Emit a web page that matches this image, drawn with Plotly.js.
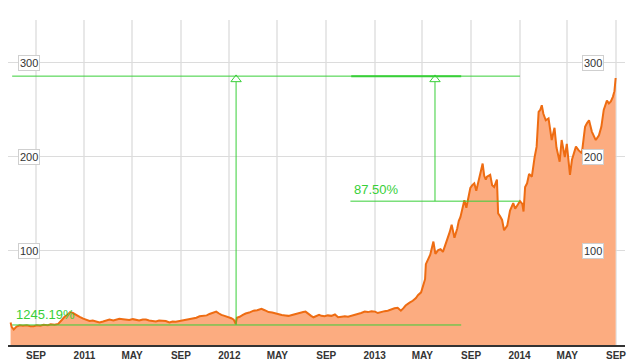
<!DOCTYPE html>
<html>
<head>
<meta charset="utf-8">
<script src="https://cdn.plot.ly/plotly-3.0.1.min.js"></script>
<style>html,body{margin:0;padding:0;background:#fff;}#chart{width:630px;height:363px;}</style>
</head>
<body>
<div id="chart"></div>
<script>
// Price series
const dates = ["2010-06-29","2010-07-02","2010-07-07","2010-07-14","2010-07-22","2010-07-30","2010-08-09","2010-08-18","2010-08-26","2010-09-03","2010-09-12","2010-09-20","2010-10-01","2010-10-08","2010-10-18","2010-10-27","2010-11-05","2010-11-12","2010-11-19","2010-11-26","2010-12-03","2010-12-10","2010-12-20","2010-12-29","2011-01-07","2011-01-14","2011-01-22","2011-02-01","2011-02-08","2011-02-17","2011-02-25","2011-03-05","2011-03-15","2011-03-22","2011-03-30","2011-04-08","2011-04-16","2011-04-24","2011-05-03","2011-05-11","2011-05-19","2011-05-28","2011-06-05","2011-06-13","2011-06-22","2011-06-30","2011-07-08","2011-07-16","2011-07-25","2011-08-03","2011-08-11","2011-08-19","2011-08-28","2011-09-06","2011-09-13","2011-09-22","2011-10-01","2011-10-10","2011-10-18","2011-10-27","2011-11-05","2011-11-12","2011-11-20","2011-11-29","2011-12-06","2011-12-12","2011-12-20","2011-12-29","2012-01-06","2012-01-12","2012-01-17","2012-01-20","2012-01-27","2012-02-04","2012-02-11","2012-02-20","2012-03-02","2012-03-11","2012-03-22","2012-03-30","2012-04-09","2012-04-18","2012-04-26","2012-05-04","2012-05-12","2012-05-21","2012-05-29","2012-06-07","2012-06-18","2012-06-27","2012-07-05","2012-07-11","2012-07-18","2012-07-25","2012-07-31","2012-08-08","2012-08-14","2012-08-20","2012-08-28","2012-09-05","2012-09-14","2012-09-23","2012-10-01","2012-10-10","2012-10-18","2012-10-26","2012-11-05","2012-11-12","2012-11-20","2012-11-28","2012-12-07","2012-12-15","2012-12-24","2013-01-02","2013-01-09","2013-01-18","2013-01-26","2013-02-03","2013-02-11","2013-02-20","2013-02-28","2013-03-08","2013-03-14","2013-03-20","2013-03-30","2013-04-07","2013-04-15","2013-04-20","2013-04-28","2013-05-03","2013-05-08","2013-05-10","2013-05-14","2013-05-21","2013-05-29","2013-06-03","2013-06-10","2013-06-16","2013-06-22","2013-06-26","2013-07-03","2013-07-09","2013-07-14","2013-07-18","2013-07-21","2013-07-28","2013-08-01","2013-08-05","2013-08-11","2013-08-15","2013-08-20","2013-08-25","2013-08-30","2013-09-04","2013-09-09","2013-09-14","2013-09-19","2013-09-24","2013-09-30","2013-10-04","2013-10-08","2013-10-11","2013-10-19","2013-10-24","2013-10-29","2013-11-05","2013-11-08","2013-11-13","2013-11-18","2013-11-23","2013-12-01","2013-12-08","2013-12-12","2013-12-16","2013-12-21","2013-12-26","2014-01-02","2014-01-08","2014-01-11","2014-01-15","2014-01-20","2014-01-25","2014-02-01","2014-02-08","2014-02-13","2014-02-18","2014-02-22","2014-02-26","2014-03-02","2014-03-08","2014-03-15","2014-03-23","2014-03-30","2014-04-04","2014-04-12","2014-04-17","2014-04-25","2014-04-30","2014-05-08","2014-05-13","2014-05-18","2014-05-23","2014-05-30","2014-06-07","2014-06-12","2014-06-15","2014-06-20","2014-06-25","2014-07-02","2014-07-07","2014-07-12","2014-07-20","2014-07-26","2014-08-01","2014-08-05","2014-08-09","2014-08-14","2014-08-19","2014-08-24","2014-08-28","2014-08-31"];
const prices = [24,19,16.5,19.5,21,20.5,21,20,20,21,20.5,21.5,21,22,21.5,22.5,26.6,30,32,35,34,32,30,28,27,25.5,26,24.5,24,25,26,27,26,27,28,27.5,27,26.5,27.5,26.5,26,27,27,26,25.5,25,26,25.5,25.5,24,25,24.8,25.5,26,27,27.5,28,29,30.5,31,31.5,33,34,35.5,33.5,32,31,30,28.5,27,22.5,29,30,32,33.5,34.5,36.5,37,38.5,37,35,34.5,33.5,33,32,31.5,31,32,33.5,34,35,35.5,33,31,29.5,31,32,31,30.5,31.5,31,32.5,29.5,30,30.5,30,31,32.5,33,34,35.5,35,36,35.5,34,35.5,36,36.5,38,39,39.5,36.5,39,42,45,47,50,53,56,62,70,86,90,96,110,97,101,102,99,104,111,120,128,118,114,124,132,136,146,154,146,158,167,170,172,164,174,182,193,180,176,179,181,170,168,176,140,137,133,122,127,143,148,151,145,149,153,150,142,168,172,182,179,200,211,248,250,255,246,239,241,218,231,210,195,218,200,214,181,197,203,211,207,204,222,232,236,239,227,222,218,223,232,250,254,260,257,259,264,270,284];

// Axis ticks
const xTickVals = ["2010-09-01","2011-01-01","2011-05-01","2011-09-01","2012-01-01","2012-05-01","2012-09-01","2013-01-01","2013-05-01","2013-09-01","2014-01-01","2014-05-01","2014-09-01"];
const xTickText = ["SEP","2011","MAY","SEP","2012","MAY","SEP","2013","MAY","SEP","2014","MAY","SEP"];
const yTicks = [100, 200, 300];

// Measurement annotations (price levels and dates)
const lowLevel = 21.3;
const highLevel = 286;
const midLevel = 153;
const measureStart = "2010-07-03";
const highLineEnd = "2014-01-02";
const highThickRange = ["2012-11-03", "2013-08-07"];
const lowLineEnd = "2013-08-07";
const midLineRange = ["2012-11-01", "2014-01-02"];
const arrowDates = ["2012-01-18", "2013-06-02"];
const arrowBottoms = [lowLevel, midLevel];
const pctLabels = ["1245.19%", "87.50%"];
const pctLabelDates = ["2010-07-08", "2012-11-05"];
const pctLabelLevels = [32, 165];

const green = "#38cf38";

const traces = [
  {
    x: dates, y: prices, type: "scatter", mode: "lines",
    fill: "tozeroy", fillcolor: "rgb(252,172,128)",
    line: {color: "rgb(238,108,18)", width: 2},
    hoverinfo: "skip"
  },
  {
    x: arrowDates, y: arrowDates.map(() => highLevel - 3.5), type: "scatter", mode: "markers",
    marker: {symbol: "triangle-up-open", size: 9, color: green, line: {width: 1, color: green}},
    hoverinfo: "skip"
  }
];

const shapes = [
  {type: "line", xref: "x", yref: "y", x0: measureStart, x1: highLineEnd, y0: highLevel, y1: highLevel, line: {color: green, width: 1}},
  {type: "line", xref: "x", yref: "y", x0: highThickRange[0], x1: highThickRange[1], y0: highLevel, y1: highLevel, line: {color: green, width: 2}},
  {type: "line", xref: "x", yref: "y", x0: measureStart, x1: lowLineEnd, y0: lowLevel, y1: lowLevel, line: {color: green, width: 1}},
  {type: "line", xref: "x", yref: "y", x0: midLineRange[0], x1: midLineRange[1], y0: midLevel, y1: midLevel, line: {color: green, width: 1}}
];
arrowDates.forEach((d, i) => {
  shapes.push({type: "line", xref: "x", yref: "y", x0: d, x1: d, y0: arrowBottoms[i], y1: highLevel - 6, line: {color: green, width: 1}});
});

const annotations = [];
yTicks.forEach(v => {
  [0.0340, 0.9488].forEach(px => {
    annotations.push({
      xref: "paper", yref: "y", x: px, y: v, text: String(v), showarrow: false,
      font: {family: "Arial, Liberation Sans, sans-serif", size: 11, color: "#333"},
      bgcolor: "#ffffff", bordercolor: "#cfcfcf", borderwidth: 1, borderpad: 1,
      xanchor: "center", yanchor: "middle"
    });
  });
});
pctLabels.forEach((t, i) => {
  annotations.push({
    xref: "x", yref: "y", x: pctLabelDates[i], y: pctLabelLevels[i], text: t, showarrow: false,
    font: {family: "Arial, Liberation Sans, sans-serif", size: 13, color: green},
    xanchor: "left", yanchor: "middle"
  });
});

const layout = {
  width: 630, height: 363,
  margin: {l: 8, r: 5, t: 20, b: 18},
  paper_bgcolor: "#ffffff", plot_bgcolor: "#ffffff",
  showlegend: false,
  xaxis: {
    type: "date",
    range: ["2010-06-22 12:00", "2014-09-23 14:00"],
    tickvals: xTickVals, ticktext: xTickText,
    tickfont: {family: "Arial, Liberation Sans, sans-serif", size: 10, color: "#333", weight: "bold"},
    showgrid: true, gridcolor: "#e8e8e8", gridwidth: 2,
    showline: true, linecolor: "#333", linewidth: 1.5,
    ticks: "", zeroline: false, fixedrange: true
  },
  yaxis: {
    range: [0, 345.7],
    tickvals: yTicks, showticklabels: false,
    showgrid: true, gridcolor: "#dcdcdc", gridwidth: 1,
    zeroline: false, showline: false, ticks: "", fixedrange: true
  },
  shapes: shapes,
  annotations: annotations
};

Plotly.newPlot("chart", traces, layout, {staticPlot: true, displayModeBar: false});
</script>
</body>
</html>
